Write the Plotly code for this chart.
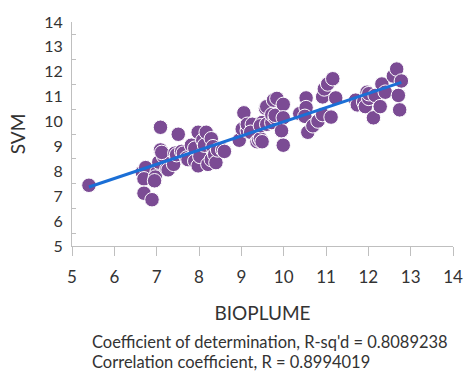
import numpy as np
import plotly.graph_objects as go

# BIOPLUME vs SVM predicted values
bioplume = [
    5.40, 6.66, 6.74, 6.70, 6.70, 6.89, 7.01, 6.97, 6.95, 7.05,
    7.09, 7.16, 7.12, 7.09, 7.24, 7.27, 7.40, 7.43, 7.47, 7.51,
    7.59, 7.63, 7.71, 7.74, 7.82, 7.90, 7.90, 7.98, 7.98, 8.02,
    8.09, 8.13, 8.17, 8.21, 8.29, 8.29, 8.33, 8.37, 8.40, 8.44,
    8.56, 8.60, 8.95, 9.02, 9.06, 9.14, 9.14, 9.26, 9.22, 9.37,
    9.41, 9.45, 9.49, 9.49, 9.45, 9.57, 9.60, 9.60, 9.72, 9.72,
    9.76, 9.80, 9.80, 9.84, 9.99, 9.99, 9.95, 9.99, 10.38, 10.53,
    10.53, 10.50, 10.57, 10.69, 10.81, 10.92, 10.92, 10.96, 11.04, 11.16,
    11.12, 11.23, 11.70, 11.74, 11.89, 11.93, 11.97, 12.01, 12.01, 12.12,
    12.16, 12.28, 12.32, 12.40, 12.59, 12.67, 12.78, 12.71, 12.74,
]
svm = [
    7.44, 7.96, 8.15, 7.70, 7.12, 6.86, 7.96, 7.77, 7.62, 8.37,
    8.86, 8.61, 8.76, 9.77, 8.09, 8.06, 8.28, 8.73, 8.67, 9.49,
    8.80, 8.73, 8.54, 8.47, 9.05, 8.93, 8.41, 8.22, 9.57, 8.60,
    9.25, 9.05, 9.57, 8.28, 8.47, 9.31, 8.99, 8.67, 8.35, 8.86,
    8.86, 8.80, 9.25, 9.70, 10.35, 9.63, 9.89, 9.89, 9.57, 9.19,
    9.25, 9.31, 9.96, 9.19, 9.83, 10.54, 10.60, 9.89, 9.96, 10.28,
    10.86, 10.15, 10.25, 10.93, 10.69, 10.15, 9.63, 9.05, 10.32, 10.95,
    10.56, 10.21, 9.57, 9.83, 10.02, 10.28, 10.99, 11.31, 11.51, 11.72,
    10.18, 10.95, 10.86, 10.67, 10.79, 10.60, 11.18, 10.93, 11.12, 10.15,
    11.05, 10.60, 11.51, 11.18, 11.83, 12.11, 11.63, 11.05, 10.47,
]

x_ticks = list(range(5, 15))
y_ticks = list(range(5, 15))

stats_lines = [
    "Coefficient of determination, R-sq'd = 0.8089238",
    "Correlation coefficient, R = 0.8994019",
]

FONT = "Lato"
TEXT = "#333333"
AXIS = "#bfbfbf"

# least-squares trend line across the range of the data
slope, intercept = np.polyfit(bioplume, svm, 1)
fit_x = np.array([min(bioplume), max(bioplume)])
fit_y = slope * fit_x + intercept

fig = go.Figure()
fig.add_trace(go.Scatter(
    x=bioplume, y=svm, mode="markers",
    marker=dict(size=14.5, color="#7b4b94", line=dict(color="white", width=1)),
    showlegend=False, hoverinfo="skip",
))
fig.add_trace(go.Scatter(
    x=fit_x, y=fit_y, mode="lines",
    line=dict(color="#1b6fd6", width=3),
    showlegend=False, hoverinfo="skip",
))

fig.update_layout(
    width=475, height=382,
    margin=dict(l=72, r=16, t=13, b=135.5),
    paper_bgcolor="white", plot_bgcolor="white",
    font=dict(family=FONT, color=TEXT, size=14),
    xaxis=dict(
        range=[5, 14], tickvals=x_ticks, ticktext=[str(v) for v in x_ticks],
        showline=True, linecolor=AXIS, linewidth=1,
        ticks="outside", ticklen=9, tickcolor=AXIS,
        ticklabelstandoff=7,
        showgrid=False, zeroline=False,
        tickfont=dict(size=17, color=TEXT),
        title=dict(text="BIOPLUME", font=dict(size=19, color=TEXT), standoff=20),
    ),
    yaxis=dict(
        range=[5, 14], tickvals=y_ticks, ticktext=[str(v) for v in y_ticks],
        showline=True, linecolor=AXIS, linewidth=1,
        ticks="", showgrid=False, zeroline=False,
        ticklabelstandoff=5,
        minor=dict(tick0=5.5, dtick=1, ticks="inside", ticklen=4, tickcolor=AXIS,
                   showgrid=False),
        tickfont=dict(size=16, color=TEXT),
        title=dict(text="SVM", font=dict(size=19, color=TEXT), standoff=13),
    ),
)

for i, line in enumerate(stats_lines):
    fig.add_annotation(
        text=line, xref="paper", yref="paper",
        x=(90 - 72) / 387, y=(246.5 - 347 - i * 20.5) / 233.5,
        xanchor="left", yanchor="middle", showarrow=False,
        font=dict(size=16.5, color=TEXT, family=FONT),
    )

fig.write_html("out.html")
